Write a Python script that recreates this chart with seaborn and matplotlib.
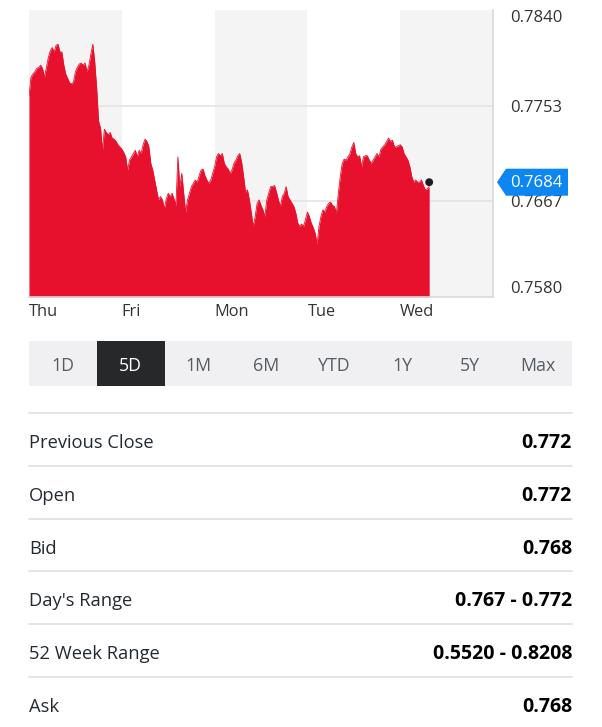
import matplotlib.pyplot as plt
from matplotlib.lines import Line2D
from matplotlib.patches import Polygon, Rectangle
import numpy as np
import pandas as pd
import seaborn as sns

W, H = 602, 727

# ---------------------------------------------------------------------------
# data (5 trading days, half-hour bars)
# ---------------------------------------------------------------------------
days = ["Thu", "Fri", "Mon", "Tue", "Wed"]
y_ticks = [0.7580, 0.7667, 0.7753, 0.7840]
last_price = 0.7684
bars_per_day = 48

prices = [
    0.7762, 0.7779, 0.7782, 0.7784, 0.7787, 0.7788, 0.7790, 0.7787, 0.7779, 0.7788,
    0.7797, 0.7803, 0.7806, 0.7802, 0.7808, 0.7809, 0.7802, 0.7802, 0.7790, 0.7782,
    0.7778, 0.7774, 0.7773, 0.7775, 0.7784, 0.7788, 0.7791, 0.7792, 0.7790, 0.7792,
    0.7784, 0.7790, 0.7800, 0.7809, 0.7793, 0.7769, 0.7739, 0.7733, 0.7713, 0.7732,
    0.7729, 0.7727, 0.7729, 0.7724, 0.7723, 0.7721, 0.7718, 0.7716, 0.7714, 0.7711,
    0.7707, 0.7695, 0.7704, 0.7707, 0.7710, 0.7713, 0.7707, 0.7713, 0.7710, 0.7718,
    0.7723, 0.7721, 0.7716, 0.7701, 0.7695, 0.7686, 0.7677, 0.7668, 0.7671, 0.7668,
    0.7660, 0.7669, 0.7674, 0.7671, 0.7674, 0.7669, 0.7663, 0.7707, 0.7680, 0.7692,
    0.7674, 0.7657, 0.7668, 0.7674, 0.7680, 0.7683, 0.7686, 0.7684, 0.7690, 0.7695,
    0.7696, 0.7690, 0.7686, 0.7683, 0.7686, 0.7692, 0.7698, 0.7707, 0.7710, 0.7708,
    0.7710, 0.7701, 0.7698, 0.7696, 0.7692, 0.7695, 0.7701, 0.7704, 0.7708, 0.7710,
    0.7702, 0.7689, 0.7675, 0.7677, 0.7668, 0.7656, 0.7644, 0.7653, 0.7665, 0.7668,
    0.7663, 0.7659, 0.7653, 0.7668, 0.7674, 0.7680, 0.7680, 0.7681, 0.7675, 0.7668,
    0.7662, 0.7671, 0.7674, 0.7680, 0.7671, 0.7668, 0.7665, 0.7662, 0.7656, 0.7647,
    0.7644, 0.7646, 0.7644, 0.7650, 0.7657, 0.7653, 0.7647, 0.7643, 0.7638, 0.7628,
    0.7644, 0.7653, 0.7659, 0.7657, 0.7662, 0.7665, 0.7666, 0.7663, 0.7662, 0.7656,
    0.7674, 0.7689, 0.7701, 0.7705, 0.7704, 0.7707, 0.7710, 0.7716, 0.7720, 0.7710,
    0.7707, 0.7708, 0.7698, 0.7707, 0.7708, 0.7708, 0.7704, 0.7701, 0.7704, 0.7707,
    0.7710, 0.7707, 0.7714, 0.7716, 0.7718, 0.7721, 0.7724, 0.7721, 0.7722, 0.7716,
    0.7716, 0.7717, 0.7718, 0.7716, 0.7710, 0.7707, 0.7704, 0.7698, 0.7689, 0.7684,
    0.7686, 0.7684, 0.7684, 0.7686, 0.7681, 0.7677, 0.7678, 0.7680,
]

tabs = ["1D", "5D", "1M", "6M", "YTD", "1Y", "5Y", "Max"]
selected_tab = "5D"

stat_labels = ["Previous Close", "Open", "Bid", "Day's Range", "52 Week Range", "Ask"]
stat_values = ["0.772", "0.772", "0.768", "0.767 - 0.772", "0.5520 - 0.8208", "0.768"]

# ---------------------------------------------------------------------------
# style
# ---------------------------------------------------------------------------
sns.set_theme(style="white")
plt.rcParams["font.family"] = ["Open Sans", "DejaVu Sans"]

RED = "#e8112d"
BLUE = "#0c86f0"
BAND = "#f4f4f5"
GRID = "#e4e4e6"
TEXT = "#333333"
LABEL = "#232a31"


def fx(px):
    return px / W


def fy(py):
    return 1 - py / H


fig = plt.figure(figsize=(W / 100, H / 100), dpi=100)
fig.patch.set_facecolor("white")

# ---------------------------------------------------------------------------
# area chart
# ---------------------------------------------------------------------------
ax = fig.add_axes([fx(29), fy(297), fx(493) - fx(29), fy(10) - fy(297)])
df = pd.DataFrame({"t": np.arange(len(prices)) / bars_per_day, "price": prices})

for i, _ in enumerate(days):
    ax.axvspan(i, i + 1, color=BAND if i % 2 == 0 else "white", lw=0, zorder=0)
for v in y_ticks[1:3]:
    ax.axhline(v, color=GRID, lw=1.2, zorder=1)

ax.fill_between(df["t"], df["price"], y_ticks[0], color=RED, lw=0, zorder=2)
sns.lineplot(data=df, x="t", y="price", color=RED, lw=0.6, ax=ax, zorder=3)
ax.scatter([df["t"].iloc[-1]], [last_price], s=32, color="#1d1d1d", zorder=5,
           edgecolor="none", clip_on=False)

ax.set_xlim(0, len(days))
ax.set_ylim(y_ticks[0], y_ticks[-1])
ax.set_xlabel("")
ax.set_ylabel("")

ax.set_xticks(range(len(days)))
ax.set_xticklabels(days, ha="left", fontsize=11.8, color=TEXT)
ax.yaxis.tick_right()
ax.set_yticks(y_ticks)
ax.set_yticklabels([f"{v:.4f}" for v in y_ticks], fontsize=12, color=TEXT)
ax.tick_params(axis="both", length=0)
ax.tick_params(axis="x", pad=5)
ax.tick_params(axis="y", pad=12)
yl = ax.get_yticklabels()
yl[0].set_va("bottom")
yl[-1].set_va("top")

for side in ["top", "left"]:
    ax.spines[side].set_visible(False)
for side in ["bottom", "right"]:
    ax.spines[side].set_color("#d9d9d9")
    ax.spines[side].set_linewidth(1.2)

# price tag
ty = fig.transFigure.inverted().transform(ax.transData.transform((0, last_price)))[1]
th = 13.5 / H
tag = Polygon(
    [(fx(497), ty), (fx(506), ty + th), (fx(568), ty + th), (fx(568), ty - th), (fx(506), ty - th)],
    closed=True, transform=fig.transFigure, fc=BLUE, ec="none", zorder=5,
)
fig.add_artist(tag)
fig.text(fx(536), ty - 1 / H, f"{last_price:.4f}", color="white", ha="center", va="center",
         fontsize=12, zorder=6)

# ---------------------------------------------------------------------------
# range tabs
# ---------------------------------------------------------------------------
tab_left, tab_right, tab_top, tab_bot = 29, 572, 341, 386
tab_w = (tab_right - tab_left) / len(tabs)
fig.add_artist(Rectangle((fx(tab_left), fy(tab_bot)), fx(tab_right) - fx(tab_left),
                         fy(tab_top) - fy(tab_bot), transform=fig.transFigure,
                         fc="#f0f0f3", lw=0))
for i, name in enumerate(tabs):
    x0 = tab_left + i * tab_w
    sel = name == selected_tab
    if sel:
        fig.add_artist(Rectangle((fx(x0), fy(tab_bot)), fx(tab_w), fy(tab_top) - fy(tab_bot),
                                 transform=fig.transFigure, fc="#262829", lw=0))
    fig.text(fx(x0 + tab_w / 2), fy((tab_top + tab_bot) / 2 + 2.5), name,
             color="white" if sel else "#555c63", ha="center", va="center", fontsize=12.8)

# ---------------------------------------------------------------------------
# quote table
# ---------------------------------------------------------------------------
row_top, row_h = 413, 52.8
for i, (lab, val) in enumerate(zip(stat_labels, stat_values)):
    y0 = row_top + i * row_h
    fig.add_artist(Line2D([fx(29), fx(572)], [fy(y0), fy(y0)], transform=fig.transFigure,
                          color="#e2e2e4", lw=1.3))
    yc = fy(y0 + row_h / 2 + 3.5)
    fig.text(fx(29), yc, lab, ha="left", va="center", fontsize=13.2, color=LABEL)
    fig.text(fx(572), yc, val, ha="right", va="center", fontsize=14, color="black",
             fontweight="bold")

fig.savefig("out.png", dpi=100)
